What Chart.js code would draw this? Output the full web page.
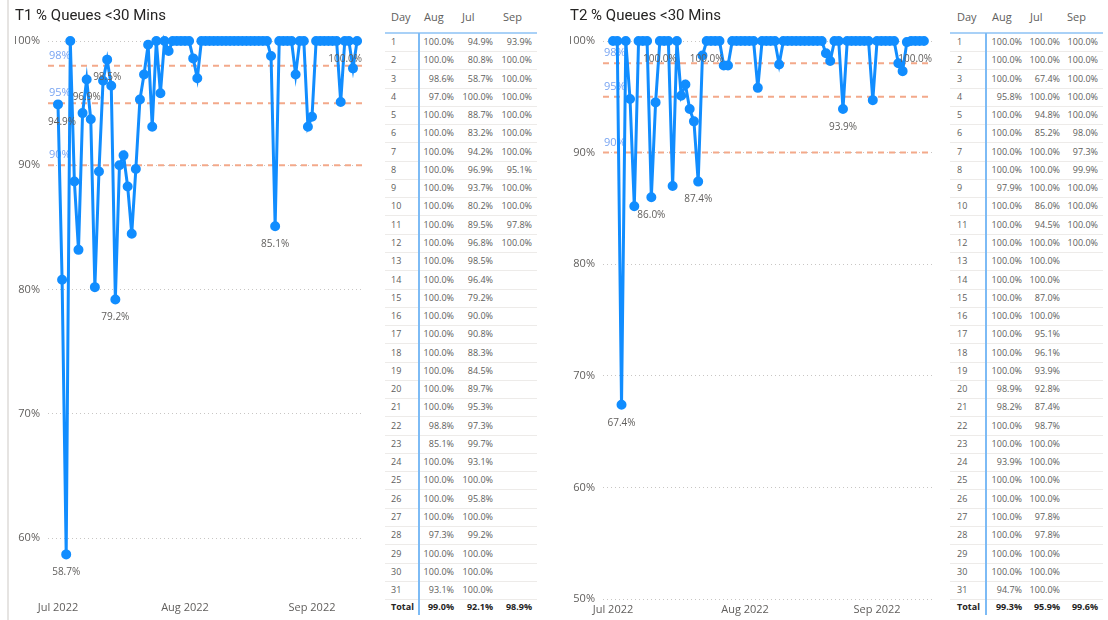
<!DOCTYPE html>
<html>
<head>
<meta charset="utf-8">
<script src="https://cdn.jsdelivr.net/npm/chart.js"></script>
<style>
  body { margin: 0; background: #fff; width: 1108px; height: 620px; overflow: hidden; position: relative; font-family: 'Segoe UI', 'Open Sans', sans-serif; }
  .wrap { position: absolute; top: 0; height: 620px; }
  .edge { position: absolute; left: 7px; top: 0; width: 2px; height: 620px; background: #e6e4e2; }
  .tbl { position: absolute; top: 0; height: 620px; }
  .tbl div { position: absolute; white-space: nowrap; line-height: 12px; }
  .hd { font-size: 11px; color: #605e5c; }
  .cell { font-size: 9px; color: #605e5c; }
  .tot { font-size: 9px; color: #252423; font-weight: bold; }
</style>
</head>
<body>
<div class="edge"></div>
<div class="wrap" style="left:15px;width:365px"><canvas id="t1"></canvas></div>
<div class="tbl" id="tab1" style="left:385px;width:155px"></div>
<div class="wrap" style="left:570px;width:370px"><canvas id="t2"></canvas></div>
<div class="tbl" id="tab2" style="left:950px;width:158px"></div>
<script>
// daily % of queues under 30 mins
const t1Jul = [94.9, 80.8, 58.7, 100.0, 88.7, 83.2, 94.2, 96.9, 93.7, 80.2, 89.5, 96.8, 98.5, 96.4, 79.2, 90.0,
  90.8, 88.3, 84.5, 89.7, 95.3, 97.3, 99.7, 93.1, 100.0, 95.8, 100.0, 99.2, 100.0, 100.0, 100.0];
const t1Aug = [100.0, 100.0, 98.6, 97.0, 100.0, 100.0, 100.0, 100.0, 100.0, 100.0, 100.0, 100.0, 100.0, 100.0, 100.0, 100.0,
  100.0, 100.0, 100.0, 100.0, 100.0, 98.8, 85.1, 100.0, 100.0, 100.0, 100.0, 97.3, 100.0, 100.0, 93.1];
const t1Sep = [93.9, 100.0, 100.0, 100.0, 100.0, 100.0, 100.0, 95.1, 100.0, 100.0, 97.8, 100.0];
const t1Totals = [99.0, 92.1, 98.9]; // Aug, Jul, Sep

const t2Jul = [100.0, 100.0, 67.4, 100.0, 94.8, 85.2, 100.0, 100.0, 100.0, 86.0, 94.5, 100.0, 100.0, 100.0, 87.0, 100.0,
  95.1, 96.1, 93.9, 92.8, 87.4, 98.7, 100.0, 100.0, 100.0, 100.0, 97.8, 97.8, 100.0, 100.0, 100.0];
const t2Aug = [100.0, 100.0, 100.0, 95.8, 100.0, 100.0, 100.0, 100.0, 97.9, 100.0, 100.0, 100.0, 100.0, 100.0, 100.0, 100.0,
  100.0, 100.0, 100.0, 98.9, 98.2, 100.0, 100.0, 93.9, 100.0, 100.0, 100.0, 100.0, 100.0, 100.0, 94.7];
const t2Sep = [100.0, 100.0, 100.0, 100.0, 100.0, 98.0, 97.3, 99.9, 100.0, 100.0, 100.0, 100.0];
const t2Totals = [99.3, 95.9, 99.6];

const monthLabels = ['Jul 2022', 'Aug 2022', 'Sep 2022'];
const monthStarts = [0, 31, 62];
const tableCols = ['Aug', 'Jul', 'Sep'];
const targets = [98, 95, 90];
const t1YTicks = [60, 70, 80, 90, 100];
const t2YTicks = [50, 60, 70, 80, 90, 100];
// day indices (from 1 Jul) that carry a value label
const t1Labelled = [0, 2, 7, 12, 14, 53, 73];
const t2Labelled = [2, 9, 11, 20, 22, 54, 73];

const blue = '#118DFF';
const grey = '#605E5C';

const targetLines = {
  id: 'targetLines',
  beforeDatasetsDraw(chart) {
    const { ctx, chartArea: { left, right }, scales: { y } } = chart;
    ctx.save();
    targets.forEach(t => {
      const py = y.getPixelForValue(t);
      ctx.strokeStyle = '#F3A98A';
      ctx.lineWidth = 2;
      ctx.setLineDash([6, 5]);
      ctx.beginPath();
      ctx.moveTo(left, py);
      ctx.lineTo(right, py);
      ctx.stroke();
      ctx.setLineDash([]);
      ctx.fillStyle = '#79A5F2';
      ctx.font = '11px "Segoe UI", "Open Sans", sans-serif';
      ctx.textAlign = 'left';
      ctx.textBaseline = 'middle';
      ctx.fillText(t + '%', left + 1, py - 10);
    });
    ctx.restore();
  }
};

const valueLabels = {
  id: 'valueLabels',
  afterDatasetsDraw(chart, args, opts) {
    const { ctx, chartArea: { left, right } } = chart;
    const meta = chart.getDatasetMeta(0);
    const data = chart.data.datasets[0].data;
    ctx.save();
    ctx.font = '10px "Segoe UI", "Open Sans", sans-serif';
    ctx.fillStyle = grey;
    ctx.textAlign = 'center';
    ctx.textBaseline = 'middle';
    opts.indices.forEach(i => {
      const pt = meta.data[i];
      const txt = data[i].y.toFixed(1) + '%';
      const w = ctx.measureText(txt).width;
      let cx = pt.x;
      cx = Math.max(left + w / 2, Math.min(right - w / 2, cx));
      ctx.fillText(txt, cx, pt.y + 18);
    });
    ctx.restore();
  }
};

const makeChart = (id, title, jul, aug, sep, yMin, yTicks, xMin, xMax, rightPad, xAxisH, xPad, labelled) => {
  const values = jul.concat(aug, sep);
  const points = values.map((v, i) => ({ x: i, y: v }));
  return new Chart(document.getElementById(id), {
    type: 'line',
    data: {
      datasets: [{
        data: points,
        borderColor: blue,
        backgroundColor: blue,
        borderWidth: 3,
        pointRadius: 3.5,
        pointHoverRadius: 3.5,
        tension: 0,
        clip: false,
      }],
    },
    options: {
      responsive: true,
      maintainAspectRatio: false,
      animation: false,
      layout: { padding: { left: 0, right: rightPad, top: 0, bottom: 0 } },
      plugins: {
        legend: { display: false },
        tooltip: { enabled: false },
        title: {
          display: true,
          text: title,
          align: 'start',
          color: '#252423',
          font: { family: 'Roboto', size: 15, weight: 'normal' },
          padding: { top: 7, bottom: 16 },
        },
        valueLabels: { indices: labelled },
      },
      scales: {
        x: {
          type: 'linear',
          min: xMin,
          max: xMax,
          grid: { display: false, drawTicks: false },
          border: { display: false },
          afterBuildTicks: (s) => { s.ticks = monthStarts.map(v => ({ value: v })); },
          afterFit: (s) => { s.height = xAxisH; },
          ticks: {
            padding: xPad,
            color: grey,
            font: { family: '"Segoe UI", "Open Sans", sans-serif', size: 11 },
            callback: (v) => monthLabels[monthStarts.indexOf(v)],
          },
        },
        y: {
          min: yMin,
          max: 100,
          grid: { color: '#C8C6C4', lineWidth: 1, drawTicks: false },
          border: { display: false, dash: [1, 3] },
          afterBuildTicks: (s) => { s.ticks = yTicks.map(v => ({ value: v })); },
          afterFit: (s) => { s.width = 33; },
          ticks: {
            padding: 8,
            color: grey,
            font: { family: '"Segoe UI", "Open Sans", sans-serif', size: 11 },
            callback: (v) => v + '%',
          },
        },
      },
    },
    plugins: [targetLines, valueLabels],
  });
};

makeChart('t1', 'T1 % Queues <30 Mins', t1Jul, t1Aug, t1Sep, 56.4, t1YTicks, -2.44, 74.2, 18, 37, 18, t1Labelled);
makeChart('t2', 'T2 % Queues <30 Mins', t2Jul, t2Aug, t2Sep, 50, t2YTicks, -2.35, 74.9, 8, 21, 4, t2Labelled);

const buildTable = (id, jul, aug, sep, totals, xs) => {
  const el = document.getElementById(id);
  const add = (cls, txt, css) => {
    const d = document.createElement('div');
    d.className = cls;
    d.textContent = txt;
    Object.assign(d.style, css);
    el.appendChild(d);
  };
  const line = (css) => {
    const d = document.createElement('div');
    Object.assign(d.style, css);
    el.appendChild(d);
  };
  const rowY = (i) => 42 + i * 18.27;
  add('hd', 'Day', { left: xs.dayL + 'px', top: (17 - 7) + 'px', lineHeight: '14px' });
  tableCols.forEach((c, k) => add('hd', c, { left: xs.head[k] + 'px', top: (17 - 7) + 'px', lineHeight: '14px' }));
  line({ left: '0px', top: '32px', width: xs.w + 'px', height: '2px', background: '#A9D1F7' });
  const cols = [aug, jul, sep];
  for (let i = 0; i < 31; i++) {
    const y = rowY(i);
    add('cell', String(i + 1), { left: xs.dayL + 'px', top: (y - 6) + 'px' });
    cols.forEach((arr, k) => {
      if (i < arr.length) {
        add('cell', arr[i].toFixed(1) + '%', { right: (xs.w2 - xs.valR[k]) + 'px', top: (y - 6) + 'px' });
      }
    });
    line({ left: '0px', top: Math.round(y + 9) + 'px', width: xs.w + 'px', height: '1px', background: '#EDEBE9' });
  }
  add('tot', 'Total', { left: xs.dayL + 'px', top: (607 - 6) + 'px' });
  totals.forEach((t, k) => add('tot', t.toFixed(1) + '%', { right: (xs.w2 - xs.valR[k]) + 'px', top: (607 - 6) + 'px' }));
  line({ left: xs.vline + 'px', top: '33px', width: '2px', height: '582px', background: '#7DBBF5' });
};

buildTable('tab1', t1Jul, t1Aug, t1Sep, t1Totals,
  { dayL: 6, head: [39, 77, 118], valR: [69, 108, 147], w: 152, w2: 155, vline: 33 });
buildTable('tab2', t2Jul, t2Aug, t2Sep, t2Totals,
  { dayL: 7, head: [42, 80, 117], valR: [72, 110, 148], w: 153, w2: 158, vline: 35 });
</script>
</body>
</html>
